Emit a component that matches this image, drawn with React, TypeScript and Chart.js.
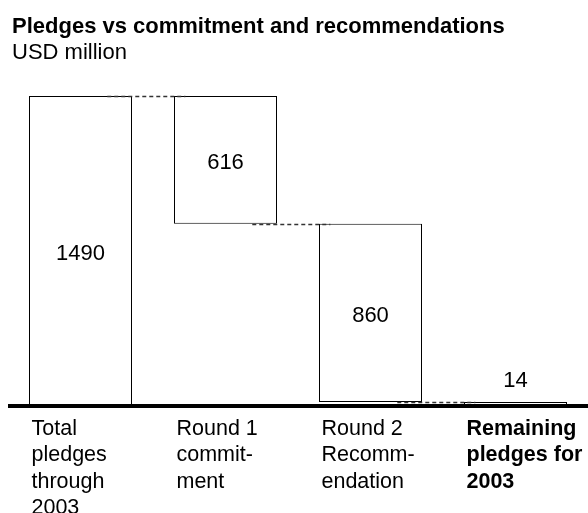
import React, { useEffect, useRef } from "react";
import { Chart, registerables } from "chart.js";

Chart.register(...registerables);

// ---- data ----
const TITLE = "Pledges vs commitment and recommendations";
const SUBTITLE = "USD million";
const categoryLines: string[][] = [
  ["Total", "pledges", "through", "2003"],
  ["Round 1", "commit-", "ment"],
  ["Round 2", "Recomm-", "endation"],
  ["Remaining", "pledges for", "2003"],
];
const values = [1490, 616, 860, 14];
const barKinds = ["total", "decrease", "decrease", "total"];
const boldCategory = [false, false, false, true];
const valueLabels = ["1490", "616", "860", "14"];

// build waterfall ranges from the values
const ranges: [number, number][] = [];
const levels: number[] = [];
{
  let running = 0;
  values.forEach((v, i) => {
    if (barKinds[i] === "total") {
      ranges.push([0, v]);
      running = v;
    } else {
      ranges.push([running - v, running]);
      running -= v;
    }
    levels.push(running);
  });
}
const yMax = Math.max(...ranges.map((r) => r[1]));

const FONT = '"Liberation Sans", Arial, Helvetica, sans-serif';

const overlay = {
  id: "overlay",
  afterDatasetsDraw(chart: any) {
    const ctx: CanvasRenderingContext2D = chart.ctx;
    const meta = chart.getDatasetMeta(0);
    const yScale = chart.scales.y;
    const els: any[] = meta.data;

    // dashed connectors
    ctx.save();
    ctx.strokeStyle = "#333";
    ctx.lineWidth = 1.5;
    ctx.setLineDash([4, 3]);
    for (let i = 0; i < els.length - 1; i++) {
      const a = els[i];
      const b = els[i + 1];
      const py = Math.round(yScale.getPixelForValue(levels[i])) + 0.5;
      ctx.beginPath();
      ctx.moveTo(a.x + a.width * 0.26, py);
      ctx.lineTo(b.x - b.width * 0.39, py);
      ctx.stroke();
    }
    ctx.restore();

    // axis baseline
    ctx.save();
    ctx.fillStyle = "#000";
    const y0 = yScale.getPixelForValue(0);
    ctx.fillRect(8, y0 - 1, 580, 4);
    ctx.restore();

    // value labels
    ctx.save();
    ctx.fillStyle = "#000";
    ctx.font = `22px ${FONT}`;
    ctx.textAlign = "center";
    ctx.textBaseline = "alphabetic";
    els.forEach((el, i) => {
      const top = Math.min(el.y, el.base);
      const bottom = Math.max(el.y, el.base);
      const h = bottom - top;
      if (h > 40) {
        const mid = (top + bottom) / 2;
        ctx.fillText(valueLabels[i], el.x, mid + 9);
      } else {
        ctx.fillText(valueLabels[i], el.x, top - 15.5);
      }
    });
    ctx.restore();

    // category labels
    ctx.save();
    ctx.fillStyle = "#000";
    ctx.textAlign = "left";
    ctx.textBaseline = "alphabetic";
    els.forEach((el, i) => {
      ctx.font = `${boldCategory[i] ? "bold " : ""}21.5px ${FONT}`;
      const left = el.x - el.width / 2 + 2.5;
      categoryLines[i].forEach((line, k) => {
        ctx.fillText(line, left, 434.5 + 26.6 * k);
      });
    });
    ctx.restore();

    // title + subtitle
    ctx.save();
    ctx.fillStyle = "#000";
    ctx.textAlign = "left";
    ctx.textBaseline = "alphabetic";
    ctx.font = `bold 22px ${FONT}`;
    ctx.fillText(TITLE, 12, 33);
    ctx.font = `22px ${FONT}`;
    ctx.fillText(SUBTITLE, 12, 59);
    ctx.restore();
  },
};

export default function App() {
  const canvasRef = useRef<HTMLCanvasElement | null>(null);

  useEffect(() => {
    if (!canvasRef.current) return;
    const chart = new Chart(canvasRef.current, {
      type: "bar",
      data: {
        labels: categoryLines.map((l) => l.join(" ")),
        datasets: [
          {
            data: ranges as any,
            backgroundColor: "#ffffff",
            borderColor: "#000000",
            borderWidth: 1,
            borderSkipped: false,
            barPercentage: 103 / 145,
            categoryPercentage: 1,
          },
        ],
      },
      options: {
        responsive: false,
        animation: false,
        events: [],
        layout: { padding: { top: 96, bottom: 108, left: 8, right: 0 } },
        plugins: {
          legend: { display: false },
          tooltip: { enabled: false },
          title: { display: false },
        },
        scales: {
          x: { display: false, grid: { display: false } },
          y: { display: false, min: 0, max: yMax, grid: { display: false } },
        },
      },
      plugins: [overlay],
    });
    return () => chart.destroy();
  }, []);

  return (
    <div style={{ position: "fixed", left: 0, top: 0, width: 588, height: 513, background: "#fff" }}>
      <canvas ref={canvasRef} width={588} height={513} style={{ display: "block" }} />
    </div>
  );
}
